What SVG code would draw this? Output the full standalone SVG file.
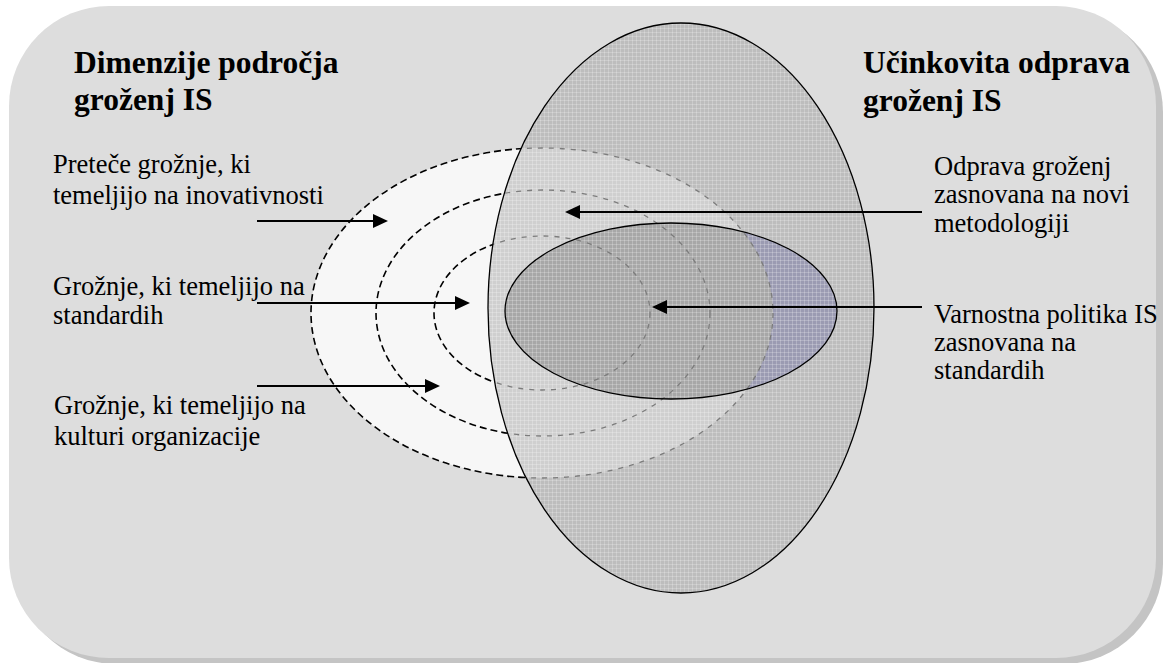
<svg xmlns="http://www.w3.org/2000/svg" width="1164" height="663" viewBox="0 0 1164 663">
<style>
.title{font-family:"Liberation Serif","Times New Roman",serif;font-weight:bold;font-size:31.5px;fill:#000}
.lbl{font-family:"Liberation Serif","Times New Roman",serif;font-size:26.5px;fill:#000}
.dashB{fill:none;stroke:#000;stroke-width:1.6;stroke-dasharray:7 4}
.dashG{fill:none;stroke:#7c7c7c;stroke-width:1.3;stroke-dasharray:5 6}
.arrow{stroke:#000;stroke-width:2;fill:none;marker-end:url(#ah)}
.outline{fill:none;stroke:#000;stroke-width:1.3}
</style>
<defs>
<marker id="ah" markerUnits="userSpaceOnUse" markerWidth="16" markerHeight="15" refX="7" refY="7" orient="auto">
<path d="M0,0 L15,7 L0,14 Z" fill="#000"/>
</marker>
<pattern id="grid" width="4" height="4" patternUnits="userSpaceOnUse">
<path d="M0 0.5H4 M0.5 0V4" stroke="#ffffff" stroke-opacity="0.22" stroke-width="1"/>
</pattern>
<clipPath id="clipBig"><ellipse cx="681" cy="308" rx="193" ry="285"/></clipPath>
<mask id="outBig"><rect width="1164" height="663" fill="#fff"/><ellipse cx="681" cy="308" rx="193" ry="285" fill="#000"/></mask>
<mask id="outOuter"><rect width="1164" height="663" fill="#fff"/><ellipse cx="542" cy="313" rx="231" ry="165" fill="#000"/></mask>
</defs>

<g id="background">
<rect x="16" y="12" width="1147" height="652" rx="100" ry="100" fill="#c4c4c4"/>
<rect x="9" y="6" width="1147" height="652" rx="100" ry="100" fill="#dddddd"/>
</g>

<g id="threat-area">
<ellipse cx="542" cy="313" rx="231" ry="165" fill="#f7f7f7"/>
</g>

<g id="effective-remediation">
<ellipse cx="681" cy="308" rx="193" ry="285" fill="#bdbdbd"/>
<ellipse cx="542" cy="313" rx="231" ry="165" fill="#cfcfcf" clip-path="url(#clipBig)"/>
</g>

<g id="security-policy">
<ellipse cx="671" cy="311" rx="166" ry="88" fill="#a7a7a7"/>
<ellipse cx="671" cy="311" rx="166" ry="88" fill="#9b9bb2" mask="url(#outOuter)"/>
</g>

<g id="texture">
<ellipse cx="681" cy="308" rx="193" ry="285" fill="url(#grid)"/>
</g>

<g id="threat-rings">
<g clip-path="url(#clipBig)">
<ellipse class="dashG" cx="542" cy="313" rx="231" ry="165"/>
<ellipse class="dashG" cx="543" cy="313" rx="167" ry="123"/>
<ellipse class="dashG" cx="542" cy="313" rx="108" ry="77"/>
</g>
<g mask="url(#outBig)">
<ellipse class="dashB" cx="542" cy="313" rx="231" ry="165"/>
<ellipse class="dashB" cx="543" cy="313" rx="167" ry="123"/>
<ellipse class="dashB" cx="542" cy="313" rx="108" ry="77"/>
</g>
</g>

<g id="outlines">
<ellipse class="outline" cx="681" cy="308" rx="193" ry="285"/>
<ellipse class="outline" cx="671" cy="311" rx="166" ry="88"/>
</g>

<g id="connectors">
<line class="arrow" x1="257" y1="221" x2="380" y2="221"/>
<line class="arrow" x1="257" y1="303" x2="462" y2="303"/>
<line class="arrow" x1="257" y1="386" x2="432" y2="386"/>
<line class="arrow" x1="922" y1="212" x2="573" y2="212"/>
<line class="arrow" x1="922" y1="307" x2="660" y2="307"/>
</g>

<g id="title-left">
<text class="title" x="74" y="73">Dimenzije področja</text>
<text class="title" x="74" y="110">groženj IS</text>
</g>
<g id="title-right">
<text class="title" x="863" y="73">Učinkovita odprava</text>
<text class="title" x="863" y="111">groženj IS</text>
</g>

<g id="label-innovation">
<text class="lbl" x="53" y="173">Preteče grožnje, ki</text>
<text class="lbl" x="53" y="204">temeljijo na inovativnosti</text>
</g>
<g id="label-standards">
<text class="lbl" x="53" y="295">Grožnje, ki temeljijo na</text>
<text class="lbl" x="53" y="324">standardih</text>
</g>
<g id="label-culture">
<text class="lbl" x="54" y="414">Grožnje, ki temeljijo na</text>
<text class="lbl" x="54" y="445">kulturi organizacije</text>
</g>
<g id="label-methodology">
<text class="lbl" x="934" y="175">Odprava groženj</text>
<text class="lbl" x="934" y="203">zasnovana na novi</text>
<text class="lbl" x="934" y="232">metodologiji</text>
</g>
<g id="label-policy">
<text class="lbl" x="934" y="323">Varnostna politika IS</text>
<text class="lbl" x="934" y="351">zasnovana na</text>
<text class="lbl" x="934" y="379">standardih</text>
</g>
</svg>
